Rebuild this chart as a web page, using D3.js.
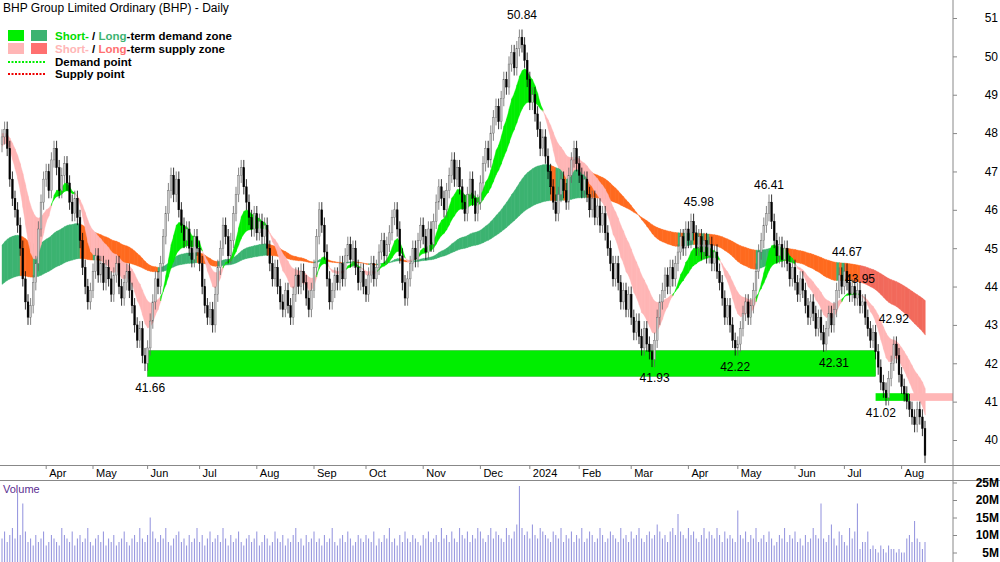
<!DOCTYPE html><html><head><meta charset="utf-8">
<script src="https://cdn.jsdelivr.net/npm/d3@7"></script>
<style>body{margin:0;background:#fff}svg{font-family:"Liberation Sans",Arial,sans-serif}</style></head><body>
<svg id="c" width="1000" height="562"></svg>
<script>
const closes=[47.9,48.1,47.6,46.8,46.3,46.0,45.6,45.0,44.2,43.6,
43.2,43.5,44.1,44.6,45.5,46.2,46.8,47.0,46.5,47.3,
47.6,47.1,46.5,46.9,47.2,46.7,46.2,45.9,46.3,45.8,
45.2,44.5,44.0,43.6,43.9,44.4,44.8,44.3,44.6,44.1,
44.5,44.2,43.8,44.3,44.6,44.0,43.7,44.1,44.4,43.9,
43.5,43.0,42.6,42.9,42.2,42.0,42.4,43.1,43.6,44.2,
44.0,44.6,45.3,45.9,46.5,46.9,46.4,46.8,46.0,45.6,
45.2,45.5,45.0,44.7,45.3,45.0,44.6,44.0,43.5,43.2,
43.4,43.0,43.8,44.5,45.0,45.6,45.3,44.8,45.2,45.9,
46.4,46.9,47.1,46.6,46.2,45.8,45.5,45.9,45.4,45.7,
45.3,45.6,45.0,44.6,44.2,44.5,44.0,43.6,43.4,43.9,
43.5,43.2,43.8,44.3,44.0,44.4,44.1,43.7,43.4,43.9,
44.5,45.3,46.0,45.6,44.9,44.2,43.6,43.9,44.3,44.1,
44.6,44.2,44.8,45.1,44.7,45.0,44.5,44.1,44.4,44.0,
43.8,44.3,44.6,44.2,44.5,44.9,45.2,44.8,45.1,45.4,
45.8,46.0,45.5,44.8,44.1,43.7,44.2,44.6,45.0,44.7,
45.2,45.6,45.3,44.9,45.5,45.1,45.7,46.2,46.6,46.3,
46.0,46.5,46.9,47.3,46.8,47.1,46.6,46.2,45.9,46.4,
46.8,46.3,45.9,46.2,46.7,47.2,47.6,47.3,48.0,48.4,
48.7,48.3,48.9,49.4,49.2,49.8,50.1,49.7,50.2,50.5,
50.3,49.9,49.4,48.8,49.0,48.5,48.1,47.6,47.9,47.4,
47.0,46.6,46.2,45.9,46.4,46.8,46.5,46.2,46.9,47.3,
47.6,47.2,46.9,46.5,46.8,46.4,46.0,46.3,45.8,46.1,
45.6,45.9,45.4,45.0,44.6,44.2,44.6,44.1,43.6,43.9,
43.4,43.8,43.2,42.8,43.1,42.7,42.4,42.9,42.5,42.3,
42.1,42.6,43.2,43.6,43.9,44.3,44.0,44.5,44.2,44.6,
44.9,45.3,45.0,45.5,45.2,45.7,45.4,45.0,45.3,44.9,
45.2,44.8,45.1,44.6,44.9,44.4,44.1,43.7,43.2,43.5,
43.0,42.6,42.4,42.5,42.9,43.3,43.6,43.2,43.5,43.9,
44.4,44.9,45.2,45.6,45.9,46.2,45.7,45.2,44.8,45.1,
44.7,45.0,44.6,44.2,44.5,44.1,43.8,44.2,43.9,43.5,
43.2,43.6,43.3,42.9,43.2,42.8,42.5,42.9,43.3,43.0,
43.4,43.9,44.3,44.0,44.4,44.1,43.8,44.0,43.7,43.9,
43.5,43.6,43.2,42.9,42.6,42.8,42.3,41.9,41.5,41.3,
41.1,41.6,42.0,42.5,42.2,41.7,41.4,41.2,41.0,40.8,
40.6,40.4,40.8,40.6,40.3,39.6];
const volumes=[9,11,8,10,12,9,22,10,19,11,8,9,7,10,8,9,11,7,8,10,
9,8,7,12,10,9,8,11,7,9,10,8,9,12,8,7,9,10,8,11,
7,9,8,10,7,8,9,11,8,7,9,10,8,12,9,8,10,15,11,9,
8,10,9,12,8,7,9,10,11,8,9,7,10,8,9,12,8,10,7,9,
11,8,9,10,8,12,9,7,10,8,9,11,8,7,9,10,8,9,11,7,
8,10,9,7,8,11,9,8,10,7,9,8,10,12,8,9,7,10,8,9,
11,8,9,7,10,8,9,12,8,7,9,10,8,11,9,7,8,10,9,8,
10,9,8,11,7,9,8,10,9,12,8,9,7,10,8,11,9,8,10,9,
8,7,10,9,11,8,9,10,8,12,9,10,8,11,9,8,12,10,9,11,
8,10,9,12,11,9,8,10,12,9,11,10,9,8,12,10,9,11,13,24,
12,10,11,9,13,10,9,12,11,10,9,8,11,10,9,12,8,10,9,11,
8,10,9,12,8,9,11,10,8,9,12,10,8,9,11,10,9,8,12,9,
10,8,11,9,10,12,9,8,10,11,9,10,13,11,9,10,8,11,12,10,
16,11,10,9,12,10,11,9,8,10,12,9,11,10,9,12,10,8,11,9,
10,9,8,17,10,9,11,8,10,9,12,8,9,10,8,11,9,7,8,10,
9,12,8,10,9,11,8,9,7,10,8,9,12,10,9,19,9,8,10,13,
9,7,11,10,8,7,12,9,11,19,6,8,8,11,6,7,6,5,7,6,
5,7,6,6,5,6,5,5,9,10,8,14,9,8,6,8,7,9,9,8];
const monthLabels=["Apr","May","Jun","Jul","Aug","Sep","Oct","Nov","Dec","2024","Feb","Mar","Apr","May","Jun","Jul","Aug"];
const monthStart=[17,35,56,76,98,120,140,162,184,203,222,242,264,283,305,324,346];
const priceTicks=[40,41,42,43,44,45,46,47,48,49,50,51];
const volTicks=[5,10,15,20,25];
const annLabels=["41.66","50.84","41.93","42.22","45.98","46.41","42.31","44.67","43.95","42.92","41.02"];
const annIdx=[57,200,251,282,268,295,320,325,330,343,338];
const annPrice=[41.66,50.84,41.93,42.22,45.98,46.41,42.31,44.67,43.95,42.92,41.02];
const annBelow=[1,0,1,1,0,0,1,0,0,0,1];

const svg=d3.select("#c");
const n=closes.length;
const x=d3.scaleLinear().domain([0,n-1]).range([2,925]);
const y=d3.scaleLinear().domain([40,51]).range([440,18]);
const yv=d3.scaleLinear().domain([0,25]).range([570,482.5]);
const opens=closes.map((c,i)=>i?closes[i-1]:47.7);
const highs=closes.map((c,i)=>Math.max(c,opens[i])+0.2);
const lows=closes.map((c,i)=>Math.min(c,opens[i])-0.2);
function ema(p,seed){const k=2/(p+1);let e=seed,o=[];closes.forEach(c=>{e=e+k*(c-e);o.push(e)});return o;}
const s1=ema(10,47.6),s2=ema(22,48.0),l1=ema(70,45.0),l2=ema(140,44.0);

const g=svg.append("g");
g.append("defs").append("clipPath").attr("id","cp").append("rect").attr("x",0).attr("y",0).attr("width",953).attr("height",465);
const pg=g.append("g").attr("clip-path","url(#cp)");
function band(a,b,colFn){
  for(let i=1;i<n;i++){
    pg.append("path").attr("d",`M${x(i-1)},${y(a[i-1])}L${x(i)+0.3},${y(a[i])}L${x(i)+0.3},${y(b[i])}L${x(i-1)},${y(b[i-1])}Z`).attr("fill",colFn(i)).attr("stroke",colFn(i)).attr("stroke-width",0.4);
  }
}
band(l1,l2,i=>closes[i]<Math.min(l1[i],l2[i])?(i>330?"#f26a5c":"#ff6a1f"):"#3cb371");
band(s1,s2,i=>s1[i]>s2[i]?"#00ee00":"#ffb6b6");
// zones
pg.append("rect").attr("x",x(56)).attr("width",x(336)-x(56)).attr("y",y(42.33)).attr("height",y(41.66)-y(42.33)).attr("fill","#00ee00").attr("stroke","#00aa00").attr("stroke-width",0.5);
pg.append("rect").attr("x",x(336)).attr("width",x(349)-x(336)).attr("y",y(41.22)).attr("height",y(41.02)-y(41.22)).attr("fill","#00ee00");
pg.append("rect").attr("x",x(349)).attr("width",953-x(349)).attr("y",y(41.22)).attr("height",y(41.02)-y(41.22)).attr("fill","#ffb6b6");
// candles
closes.forEach((c,i)=>{
  const o=opens[i],up=c>=o;
  pg.append("line").attr("x1",x(i)).attr("x2",x(i)).attr("y1",y(highs[i])).attr("y2",y(lows[i])).attr("stroke",up?"#666":"#000").attr("stroke-width",0.8);
  pg.append("rect").attr("x",x(i)-0.9).attr("width",1.8).attr("y",y(Math.max(o,c))).attr("height",Math.max(1,Math.abs(y(o)-y(c))))
   .attr("fill",up?"#c8c8c8":"#000").attr("stroke",up?"#666":"#000").attr("stroke-width",0.4);
});
// annotations
annLabels.forEach((t,k)=>{
  g.append("text").attr("x",x(annIdx[k])).attr("y",annBelow[k]?y(annPrice[k])+16:y(annPrice[k])-5).attr("text-anchor","middle").attr("font-size",12).attr("fill","#000").text(t);
});
// axes frames
g.append("line").attr("x1",953).attr("x2",953).attr("y1",0).attr("y2",562).attr("stroke","#888");
g.append("line").attr("x1",0).attr("x2",1000).attr("y1",465.5).attr("y2",465.5).attr("stroke","#888");
g.append("line").attr("x1",0).attr("x2",1000).attr("y1",480.5).attr("y2",480.5).attr("stroke","#888");
const ra=g.append("g").attr("transform","translate(953,0)").call(d3.axisRight(y).tickValues(priceTicks).tickSize(4).tickFormat(d3.format("d")));
ra.select(".domain").remove();
ra.selectAll("text").attr("x",45).attr("text-anchor","end").attr("font-size",12).attr("font-family","Liberation Sans");
ra.selectAll("line").attr("stroke","#888");
const va=g.append("g").attr("transform","translate(953,0)").call(d3.axisRight(yv).tickValues(volTicks).tickSize(4).tickFormat(d=>d+"M"));
va.select(".domain").remove();
va.selectAll("text").attr("x",46).attr("text-anchor","end").attr("font-size",12).attr("font-weight","bold").attr("font-family","Liberation Sans");
va.selectAll("line").attr("stroke","#888");
monthStart.forEach((m,k)=>{
  g.append("line").attr("x1",x(m)).attr("x2",x(m)).attr("y1",465).attr("y2",469).attr("stroke","#888");
  g.append("text").attr("x",x(m)+3).attr("y",477).attr("font-size",11).attr("fill","#000").text(monthLabels[k]);
});
// volume
const vg=g.append("g");
volumes.slice(0,n).forEach((v,i)=>vg.append("line").attr("x1",x(i)).attr("x2",x(i)).attr("y1",yv(v)).attr("y2",562).attr("stroke","#9090dd").attr("stroke-width",1));
g.append("text").attr("x",3).attr("y",493).attr("font-size",11).attr("fill","#5a2d91").text("Volume");
// title & legend
g.append("text").attr("x",3).attr("y",12).attr("font-size",12).attr("fill","#000").text("BHP Group Limited Ordinary (BHP) - Daily");
const lg=g.append("g").attr("font-size",11.5).attr("font-weight","bold");
lg.append("rect").attr("x",8).attr("y",30).attr("width",16).attr("height",11).attr("fill","#00ee00");
lg.append("rect").attr("x",31).attr("y",30).attr("width",16).attr("height",11).attr("fill","#3cb371");
lg.append("rect").attr("x",8).attr("y",43).attr("width",16).attr("height",11).attr("fill","#ffb6b6");
lg.append("rect").attr("x",31).attr("y",43).attr("width",16).attr("height",11).attr("fill","#ff7070");
lg.append("line").attr("x1",8).attr("x2",46).attr("y1",62).attr("y2",62).attr("stroke","#00ee00").attr("stroke-width",2).attr("stroke-dasharray","2,1.5");
lg.append("line").attr("x1",8).attr("x2",46).attr("y1",74).attr("y2",74).attr("stroke","#ee0000").attr("stroke-width",2).attr("stroke-dasharray","2,1.5");
const t1=lg.append("text").attr("x",55).attr("y",40);
t1.append("tspan").attr("fill","#00dd00").text("Short-");t1.append("tspan").attr("fill","#000").text(" / ");
t1.append("tspan").attr("fill","#3cb371").text("Long");t1.append("tspan").attr("fill","#000").text("-term demand zone");
const t2=lg.append("text").attr("x",55).attr("y",53);
t2.append("tspan").attr("fill","#ffb6b6").text("Short-");t2.append("tspan").attr("fill","#000").text(" / ");
t2.append("tspan").attr("fill","#ff7070").text("Long");t2.append("tspan").attr("fill","#000").text("-term supply zone");
lg.append("text").attr("x",55).attr("y",66).text("Demand point");
lg.append("text").attr("x",55).attr("y",78).text("Supply point");
</script></body></html>
